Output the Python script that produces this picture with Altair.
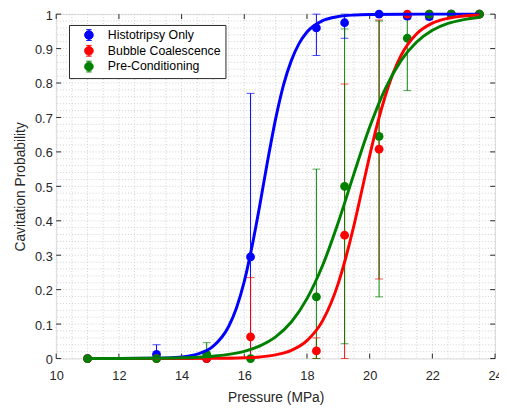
import altair as alt
import pandas as pd

# ---------------- data ----------------
series_names = ["Histotripsy Only", "Bubble Coalescence", "Pre-Conditioning"]
series_colors = ["#0000ff", "#ff0000", "#008000"]

pressure = [11.0, 13.2, 14.8, 16.2, 18.3, 19.2, 20.3, 21.2, 21.9, 22.6, 23.5]

histo_p = [0.0, 0.012, 0.0, 0.295, 0.960, 0.975, 1.0, 0.994, 0.993, 1.0, 1.0]
histo_lo = [0.0, 0.0, 0.0, 0.0, 0.880, 0.930, 1.0, 0.986, 0.984, 1.0, 1.0]
histo_hi = [0.0, 0.040, 0.0, 0.770, 1.0, 1.0, 1.0, 1.0, 1.0, 1.0, 1.0]

bubble_p = [0.0, 0.0, 0.0, 0.063, 0.022, 0.358, 0.608, 1.0, 1.0, 1.0, 1.0]
bubble_lo = [0.0, 0.0, 0.0, 0.0, 0.0, 0.0, 0.231, 1.0, 1.0, 1.0, 1.0]
bubble_hi = [0.0, 0.0, 0.0, 0.235, 0.060, 0.797, 0.983, 1.0, 1.0, 1.0, 1.0]

precond_p = [0.0, 0.0, 0.012, 0.0, 0.179, 0.500, 0.645, 0.930, 1.0, 1.0, 1.0]
precond_lo = [0.0, 0.0, 0.0, 0.0, 0.0, 0.043, 0.179, 0.778, 1.0, 1.0, 1.0]
precond_hi = [0.0, 0.0, 0.046, 0.0, 0.550, 0.957, 0.980, 1.0, 1.0, 1.0, 1.0]

# fitted curves
histo_fit_x = [11.0, 12.0, 13.0, 13.5, 14.0, 14.5, 15.0, 15.5, 15.75, 16.0, 16.25, 16.5,
               16.75, 17.0, 17.25, 17.5, 17.75, 18.0, 18.5, 19.0, 19.5, 20.0, 21.0, 22.0, 23.5]
histo_fit_y = [0.0, 0.0001, 0.0006, 0.0016, 0.0046, 0.0127, 0.035, 0.093, 0.147, 0.224, 0.327, 0.448,
               0.577, 0.696, 0.794, 0.865, 0.915, 0.948, 0.981, 0.993, 0.9975, 0.9991, 0.9999, 1.0, 1.0]

bubble_fit_x = [11.0, 13.0, 14.0, 15.0, 16.0, 16.5, 17.0, 17.5, 18.0, 18.5, 19.0, 19.25, 19.5,
                19.75, 20.0, 20.25, 20.5, 20.75, 21.0, 21.5, 22.0, 22.5, 23.0, 23.5]
bubble_fit_y = [0.0, 0.0, 0.0001, 0.0004, 0.0021, 0.0047, 0.0107, 0.0237, 0.052, 0.110, 0.219, 0.297, 0.387,
                0.488, 0.589, 0.683, 0.763, 0.829, 0.880, 0.943, 0.974, 0.988, 0.9948, 0.9977]

precond_fit_x = [11.0, 12.0, 13.0, 14.0, 14.5, 15.0, 15.5, 16.0, 16.5, 17.0, 17.5, 18.0, 18.5,
                 19.0, 19.5, 20.0, 20.5, 21.0, 21.5, 22.0, 22.5, 23.0, 23.5]
precond_fit_y = [0.0001, 0.0002, 0.0007, 0.0022, 0.0039, 0.0068, 0.012, 0.021, 0.037, 0.063, 0.106, 0.174, 0.271,
                 0.396, 0.537, 0.672, 0.784, 0.865, 0.919, 0.953, 0.973, 0.984, 0.991]

x_ticks = [10, 12, 14, 16, 18, 20, 22, 24]
y_ticks = [0.0, 0.1, 0.2, 0.3, 0.4, 0.5, 0.6, 0.7, 0.8, 0.9, 1.0]
x_grid = [10 + 0.5 * i for i in range(29)]
y_grid = [0.02 * i for i in range(51)]

# ---------------- tables ----------------
rows = []
for name, p, lo, hi in zip(series_names,
                           [histo_p, bubble_p, precond_p],
                           [histo_lo, bubble_lo, precond_lo],
                           [histo_hi, bubble_hi, precond_hi]):
    for i, x in enumerate(pressure):
        rows.append({"series": name, "pressure": x, "prob": p[i], "lo": lo[i], "hi": hi[i]})
pts = pd.DataFrame(rows)
pts["order"] = pts["series"].map({n: i for i, n in enumerate(series_names)})

fit_rows = []
for name, fx, fy in zip(series_names,
                        [histo_fit_x, bubble_fit_x, precond_fit_x],
                        [histo_fit_y, bubble_fit_y, precond_fit_y]):
    for x, y in zip(fx, fy):
        fit_rows.append({"series": name, "pressure": x, "prob": y})
fits = pd.DataFrame(fit_rows)

W, H = 446, 350
FONT = "Liberation Sans"
AX = "#262626"

xscale = alt.Scale(domain=[10, 24], nice=False, zero=False)
yscale = alt.Scale(domain=[0, 1], nice=False)
cscale = alt.Scale(domain=series_names, range=series_colors)

x_axis = alt.Axis(values=x_ticks, grid=False, ticks=False, domain=False, labelFontSize=13,
                  labelFont=FONT, labelColor=AX, labelPadding=11, title="Pressure (MPa)",
                  titleFontSize=14, titleFont=FONT, titleColor=AX, titleFontWeight="normal",
                  titlePadding=9, labelFlush=False, labelOverlap=False)
y_axis = alt.Axis(values=y_ticks, grid=False, ticks=False, domain=False, labelFontSize=13,
                  labelFont=FONT, labelColor=AX, labelPadding=4, format=".1~f", labelOffset=1,
                  title="Cavitation Probability", titleFontSize=14, titleFont=FONT,
                  titleColor=AX, titleFontWeight="normal", titlePadding=7, labelOverlap=False,
                  labelFlush=False)


def X(field):
    return alt.X(field, scale=xscale, axis=x_axis, title="Pressure (MPa)")


def Y(field):
    return alt.Y(field, scale=yscale, axis=y_axis, title="Cavitation Probability")


gx = alt.Chart(pd.DataFrame({"g": x_grid})).mark_rule(
    color="#d0d0d0", strokeWidth=1, strokeDash=[1, 2]).encode(x=X("g:Q"))
gy = alt.Chart(pd.DataFrame({"g": y_grid})).mark_rule(
    color="#d0d0d0", strokeWidth=1, strokeDash=[1, 2]).encode(y=Y("g:Q"))

tx = pd.DataFrame({"t": x_ticks})
ty = pd.DataFrame({"t": y_ticks})
tick_b = alt.Chart(tx).mark_rule(color=AX).encode(x=X("t:Q"), y=alt.value(H), y2=alt.value(H - 5))
tick_t = alt.Chart(tx).mark_rule(color=AX).encode(x=X("t:Q"), y=alt.value(0), y2=alt.value(5))
tick_l = alt.Chart(ty).mark_rule(color=AX).encode(y=Y("t:Q"), x=alt.value(0), x2=alt.value(5))
tick_r = alt.Chart(ty).mark_rule(color=AX).encode(y=Y("t:Q"), x=alt.value(W), x2=alt.value(W - 5))

sym = ("M0,-1V1M-0.5,-1H0.5M-0.5,1H0.5"
       "M-0.8,0A0.8,0.8 0 1,1 0.8,0A0.8,0.8 0 1,1 -0.8,0Z")
legend = alt.Legend(title=None, orient="none", legendX=13, legendY=11, symbolType=sym,
                    symbolSize=120, symbolStrokeWidth=1, symbolOpacity=1,
                    labelFontSize=12.5, labelFont=FONT,
                    labelColor="#000000", strokeColor=AX, fillColor="white", padding=4,
                    symbolOffset=10, labelOffset=13, rowPadding=0, labelLimit=300)

color_enc = alt.Color("series:N", scale=cscale, legend=legend)

bars = alt.Chart(pts).mark_rule(strokeWidth=1).encode(
    x=X("pressure:Q"), y=Y("lo:Q"), y2="hi:Q", color=color_enc, order="order:Q")
cap_lo = alt.Chart(pts).mark_tick(orient="horizontal", size=8, thickness=1).encode(
    x=X("pressure:Q"), y=Y("lo:Q"), color=color_enc, order="order:Q")
cap_hi = alt.Chart(pts).mark_tick(orient="horizontal", size=8, thickness=1).encode(
    x=X("pressure:Q"), y=Y("hi:Q"), color=color_enc, order="order:Q")

points = alt.Chart(pts).mark_point(size=80, filled=True, opacity=1, shape="circle").encode(
    x=X("pressure:Q"), y=Y("prob:Q"), color=color_enc, order="order:Q")

curves = alt.Chart(fits).mark_line(strokeWidth=3, interpolate="monotone").encode(
    x=X("pressure:Q"), y=Y("prob:Q"), color=color_enc, detail="series:N")

chart = alt.layer(gx, gy, tick_b, tick_t, tick_l, tick_r, bars, cap_lo, cap_hi, points, curves).properties(
    width=W, height=H,
    autosize=alt.AutoSizeParams(type="none"),
    padding={"left": 49, "top": 3, "right": 4, "bottom": 45},
).configure_view(stroke=AX, strokeWidth=1).configure(background="white")

chart.save("out.html", embed_options={"renderer": "svg", "actions": False})
